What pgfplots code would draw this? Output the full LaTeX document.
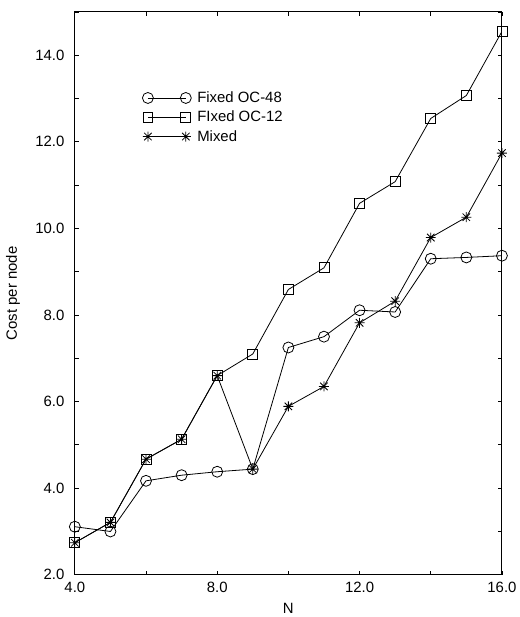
\documentclass[border=0pt]{standalone}
\usepackage{pgfplots}
\pgfplotsset{compat=1.18}
\usepackage{fontspec}
\setmainfont{Liberation Sans}
\pgfdeclareplotmark{ast}{%
  \pgfpathmoveto{\pgfqpoint{-\pgfplotmarksize}{0pt}}\pgfpathlineto{\pgfqpoint{\pgfplotmarksize}{0pt}}%
  \pgfpathmoveto{\pgfqpoint{0pt}{-\pgfplotmarksize}}\pgfpathlineto{\pgfqpoint{0pt}{\pgfplotmarksize}}%
  \pgfpathmoveto{\pgfqpoint{-0.75\pgfplotmarksize}{-0.75\pgfplotmarksize}}\pgfpathlineto{\pgfqpoint{0.75\pgfplotmarksize}{0.75\pgfplotmarksize}}%
  \pgfpathmoveto{\pgfqpoint{-0.75\pgfplotmarksize}{0.75\pgfplotmarksize}}\pgfpathlineto{\pgfqpoint{0.75\pgfplotmarksize}{-0.75\pgfplotmarksize}}%
  \pgfusepathqstroke}
\pgfplotstableread{
x y
4 3.11
5 3.00
6 4.17
7 4.30
8 4.38
9 4.44
10 7.25
11 7.50
12 8.11
13 8.07
14 9.30
15 9.33
16 9.37
}\ocfortyeight
\pgfplotstableread{
x y
4 2.74
5 3.21
6 4.67
7 5.13
8 6.60
9 7.10
10 8.59
11 9.09
12 10.58
13 11.08
14 12.54
15 13.07
16 14.55
}\octwelve
\pgfplotstableread{
x y
4 2.74
5 3.21
6 4.67
7 5.13
8 6.60
9 4.44
10 5.89
11 6.35
12 7.82
13 8.32
14 9.79
15 10.26
16 11.74
}\mixed
\begin{document}
\begin{tikzpicture}
\begin{axis}[
  scale only axis, width=428bp, height=564bp,
  xmin=4, xmax=16, ymin=2, ymax=15,
  xtick={4,8,12,16}, minor xtick={6,10,14},
  ytick={2,4,...,14}, minor ytick={3,5,...,15},
  tick align=inside,
  major tick length=4bp, minor tick length=4bp,
  every tick/.style={black, line width=0.8bp},
  axis line style={line width=1bp},
  tick label style={font=\fontsize{15}{18}\selectfont},
  /pgf/number format/.cd, fixed, fixed zerofill, precision=1, assume math mode=true,
  /pgfplots/.cd,
  yticklabel style={anchor=east, xshift=-7bp},
  xticklabel style={anchor=north, yshift=-4bp},
  xlabel={N}, ylabel={Cost per node},
  label style={font=\fontsize{15}{18}\selectfont},
  xlabel style={at={([yshift=-39bp]axis description cs:0.5,0)}, anchor=base},
  ylabel style={at={([xshift=-58bp]axis description cs:0,0.5)}, anchor=base},
  legend style={draw=none, fill=none, at={(axis cs:5.893,13.16)}, anchor=north west,
    font=\fontsize{15}{18}\selectfont, row sep=7bp, inner sep=0pt,
    nodes={inner sep=0pt}, cells={anchor=west}},
  legend image code/.code={\draw[#1] plot coordinates {(0bp,0bp) (38bp,0bp)};},
  every axis plot/.append style={black, line width=0.8bp},
]
\addplot[mark=o, mark size=5.5bp, mark options={line width=0.8bp}] table[x=x,y=y] {\ocfortyeight};
\addlegendentry{\hspace{6bp}Fixed OC-48}
\addplot[mark=square, mark size=5bp, mark options={line width=0.8bp}] table[x=x,y=y] {\octwelve};
\addlegendentry{\hspace{6bp}FIxed OC-12}
\addplot[mark=ast, mark size=5bp, mark options={line width=0.8bp}] table[x=x,y=y] {\mixed};
\addlegendentry{\hspace{6bp}Mixed}
\end{axis}
\path ([shift={(-75bp,-41bp)}]current axis.south west) rectangle ([shift={(446bp,576bp)}]current axis.south west);
\end{tikzpicture}
\end{document}
